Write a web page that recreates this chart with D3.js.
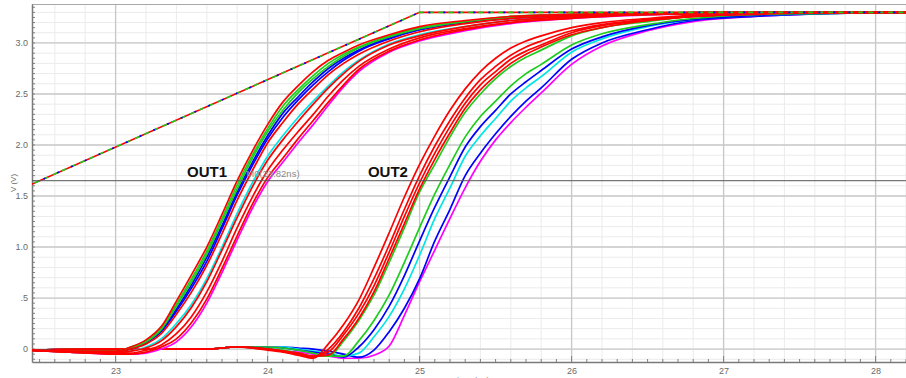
<!DOCTYPE html>
<html>
<head>
<meta charset="utf-8">
<script src="https://cdn.jsdelivr.net/npm/d3@7"></script>
<style>
  body { margin: 0; background: #fff; }
  svg { display: block; font-family: "Liberation Sans", Arial, sans-serif; }
</style>
</head>
<body>
<div id="chart"></div>
<script>
// time axis (ns) and tick labels
var xTickValues = [23, 24, 25, 26, 27, 28];
var xTickLabels = ['23', '24', '25', '26', '27', '28'];
var yTickValues = [0, 0.5, 1.0, 1.5, 2.0, 2.5, 3.0];
var yTickLabels = ['0', '.5', '1.0', '1.5', '2.0', '2.5', '3.0'];

// input ramp
var rampTimes = [20, 25, 28.2];
var rampVolts = [0, 3.3, 3.3];

// OUT1 family
var out1Times = [22.4, 22.7, 23.0, 23.1, 23.2, 23.3, 23.4, 23.5, 23.6, 23.7, 23.8, 23.9,
  24.0, 24.1, 24.2, 24.3, 24.4, 24.5, 24.6, 24.8, 25.0, 25.3, 25.6, 26.0, 26.5, 27.0, 28.2];
var out1Colors = ['#ff00ff', '#00e6e6', '#0000ff', '#0000ff', '#1ecc1e', '#1ecc1e',
  '#ff0000', '#ff0000', '#ff0000', '#ff0000', '#ff0000'];
var out1Volts = [
  [-0.01,-0.03,-0.05,-0.05,-0.04,0.00,0.07,0.22,0.45,0.75,1.07,1.38,1.64,1.83,2.02,2.20,2.39,2.57,2.72,2.91,3.02,3.12,3.19,3.24,3.275,3.29,3.30],
  [-0.01,-0.03,-0.04,-0.02,0.02,0.10,0.25,0.44,0.69,1.00,1.33,1.63,1.89,2.09,2.27,2.43,2.58,2.72,2.83,2.99,3.08,3.16,3.22,3.26,3.28,3.30,3.30],
  [-0.01,-0.02,-0.03,0.00,0.06,0.17,0.37,0.60,0.86,1.18,1.51,1.80,2.06,2.27,2.44,2.59,2.72,2.83,2.92,3.04,3.13,3.20,3.24,3.27,3.29,3.30,3.30],
  [-0.01,-0.02,-0.03,0.01,0.07,0.18,0.39,0.63,0.90,1.21,1.54,1.83,2.09,2.31,2.47,2.62,2.75,2.85,2.93,3.05,3.13,3.20,3.25,3.27,3.29,3.30,3.30],
  [-0.01,-0.02,-0.02,0.01,0.07,0.19,0.42,0.66,0.93,1.25,1.57,1.87,2.13,2.34,2.51,2.65,2.77,2.87,2.95,3.06,3.14,3.21,3.25,3.28,3.29,3.30,3.30],
  [-0.01,-0.02,-0.02,0.02,0.08,0.21,0.44,0.69,0.96,1.28,1.61,1.90,2.16,2.38,2.54,2.68,2.80,2.89,2.96,3.07,3.15,3.21,3.26,3.28,3.29,3.30,3.30],
  [-0.01,-0.03,-0.05,-0.05,-0.03,0.02,0.10,0.26,0.49,0.79,1.11,1.42,1.68,1.87,2.06,2.24,2.42,2.59,2.74,2.92,3.03,3.13,3.20,3.24,3.28,3.29,3.30],
  [-0.01,-0.03,-0.04,-0.04,-0.01,0.04,0.15,0.32,0.56,0.86,1.19,1.49,1.75,1.95,2.13,2.30,2.48,2.64,2.77,2.94,3.05,3.14,3.20,3.25,3.28,3.29,3.30],
  [-0.01,-0.03,-0.04,-0.02,0.01,0.08,0.22,0.41,0.66,0.97,1.29,1.59,1.85,2.05,2.23,2.40,2.56,2.70,2.82,2.98,3.07,3.16,3.22,3.26,3.28,3.29,3.30],
  [-0.01,-0.02,-0.03,0.00,0.05,0.15,0.34,0.56,0.82,1.13,1.46,1.75,2.02,2.22,2.40,2.55,2.69,2.80,2.89,3.02,3.11,3.19,3.24,3.27,3.29,3.30,3.30],
  [-0.01,-0.02,-0.02,0.02,0.09,0.22,0.47,0.73,1.00,1.32,1.65,1.94,2.20,2.42,2.58,2.72,2.83,2.91,2.98,3.08,3.16,3.22,3.26,3.28,3.295,3.30,3.30]
];

// OUT2 family
var out2Times = [22.4, 23.0, 23.6, 23.8, 24.0, 24.1, 24.2, 24.3, 24.4, 24.5, 24.6, 24.7, 24.8, 24.9,
  25.0, 25.1, 25.2, 25.3, 25.4, 25.5, 25.6, 25.7, 25.8, 26.0, 26.2, 26.5, 26.8, 27.2, 27.7, 28.2];
var out2Colors = ['#ff00ff', '#0000ff', '#00e6e6', '#0000ff', '#1ecc1e', '#1ecc1e',
  '#ff0000', '#ff0000', '#ff0000', '#ff0000'];
var out2Volts = [
  [-0.01,0,0,0.02,0.00,-0.02,-0.03,-0.05,-0.07,-0.09,-0.09,-0.06,0.03,0.33,0.66,0.97,1.28,1.58,1.84,2.05,2.22,2.37,2.51,2.79,2.97,3.12,3.21,3.26,3.29,3.30],
  [-0.01,0,0,0.02,0.01,0.02,0.01,0.00,-0.02,-0.05,-0.08,-0.01,0.17,0.40,0.69,1.06,1.37,1.70,1.92,2.11,2.28,2.43,2.56,2.84,3.00,3.13,3.22,3.26,3.29,3.30],
  [-0.01,0,0,0.02,0.01,0.02,0.00,-0.02,-0.04,-0.07,-0.04,0.12,0.32,0.59,0.92,1.28,1.58,1.89,2.09,2.26,2.43,2.56,2.67,2.91,3.04,3.16,3.23,3.27,3.29,3.30],
  [-0.01,0,0,0.02,0.02,0.01,-0.01,-0.03,-0.05,-0.08,0.02,0.19,0.42,0.72,1.06,1.39,1.69,1.98,2.18,2.34,2.50,2.62,2.73,2.94,3.06,3.17,3.23,3.27,3.29,3.30],
  [-0.01,0,0,0.02,0.02,0.01,-0.01,-0.04,-0.07,-0.07,0.08,0.28,0.53,0.85,1.19,1.52,1.81,2.08,2.28,2.43,2.58,2.70,2.79,2.98,3.09,3.18,3.24,3.28,3.29,3.30],
  [-0.01,0,0,0.02,0.00,-0.01,-0.04,-0.07,-0.07,0.08,0.28,0.53,0.85,1.19,1.54,1.81,2.08,2.32,2.50,2.65,2.77,2.86,2.93,3.07,3.15,3.21,3.26,3.28,3.30,3.30],
  [-0.01,0,0,0.02,0.00,-0.02,-0.04,-0.07,-0.06,0.10,0.30,0.56,0.89,1.23,1.57,1.86,2.12,2.36,2.54,2.68,2.80,2.89,2.96,3.08,3.15,3.22,3.26,3.28,3.30,3.30],
  [-0.01,0,0,0.02,0.00,-0.02,-0.04,-0.07,-0.03,0.14,0.35,0.62,0.95,1.30,1.63,1.92,2.18,2.41,2.59,2.72,2.84,2.92,2.98,3.10,3.17,3.22,3.26,3.29,3.30,3.30],
  [-0.01,0,0,0.02,0.00,-0.02,-0.05,-0.08,0.00,0.17,0.40,0.69,1.02,1.37,1.70,1.99,2.24,2.46,2.64,2.77,2.88,2.96,3.02,3.12,3.18,3.23,3.26,3.29,3.30,3.30],
  [-0.01,0,0,0.02,-0.01,-0.03,-0.06,-0.09,0.05,0.24,0.48,0.80,1.14,1.49,1.81,2.09,2.34,2.55,2.72,2.85,2.95,3.02,3.07,3.15,3.20,3.24,3.27,3.29,3.30,3.30]
];

// marker and labels
var markerVolt = 1.65;
var markerTime = 23.82;
var markerText = 'M0(23.82ns)';
var groupLabels = ['OUT1', 'OUT2'];
var groupLabelTimes = [23.47, 24.66];

(function() {
  var WIDTH = 906, HEIGHT = 378;
  var LEFT = 32, TOP = 4, RIGHT = 906, BOTTOM = 362;

  var svg = d3.select('#chart').append('svg')
    .attr('width', WIDTH)
    .attr('height', HEIGHT);

  var x = d3.scaleLinear().domain([22.45, 28.2]).range([LEFT, RIGHT]);
  var y = d3.scaleLinear().domain([-0.127, 3.382]).range([BOTTOM, TOP]);

  svg.append('clipPath').attr('id', 'plot')
    .append('rect')
      .attr('x', LEFT).attr('y', TOP)
      .attr('width', RIGHT - LEFT).attr('height', BOTTOM - TOP);

  var grid = svg.append('g');

  // minor grid
  var xMinor = d3.range(113, 142).map(function(i) { return i / 5; });
  var yMinor = d3.range(-1, 34).map(function(i) { return i / 10; });

  grid.selectAll('.xminor')
    .data(xMinor)
    .enter()
      .append('line')
      .attr('x1', function(d) { return x(d); })
      .attr('x2', function(d) { return x(d); })
      .attr('y1', TOP).attr('y2', BOTTOM)
      .style('stroke', '#ebebeb')
      .style('stroke-width', 1);

  grid.selectAll('.yminor')
    .data(yMinor)
    .enter()
      .append('line')
      .attr('x1', LEFT).attr('x2', RIGHT)
      .attr('y1', function(d) { return y(d); })
      .attr('y2', function(d) { return y(d); })
      .style('stroke', '#ebebeb')
      .style('stroke-width', 1);

  // major grid
  grid.selectAll('.xmajor')
    .data(xTickValues)
    .enter()
      .append('line')
      .attr('x1', function(d) { return x(d); })
      .attr('x2', function(d) { return x(d); })
      .attr('y1', TOP).attr('y2', BOTTOM)
      .style('stroke', '#c8c8c8')
      .style('stroke-width', 1.3);

  grid.selectAll('.ymajor')
    .data(yTickValues)
    .enter()
      .append('line')
      .attr('x1', LEFT).attr('x2', RIGHT)
      .attr('y1', function(d) { return y(d); })
      .attr('y2', function(d) { return y(d); })
      .style('stroke', '#c8c8c8')
      .style('stroke-width', 1.3);

  // frame
  svg.append('line')
    .attr('x1', LEFT).attr('x2', RIGHT).attr('y1', TOP + 0.5).attr('y2', TOP + 0.5)
    .style('stroke', '#a8a8a8').style('stroke-width', 1);

  // small inner ticks
  var xSmall = d3.range(225, 283).map(function(i) { return i / 10; });
  var ySmall = d3.range(-2, 68).map(function(i) { return i / 20; });

  svg.selectAll('.xsmall')
    .data(xSmall)
    .enter()
      .append('line')
      .attr('x1', function(d) { return x(d); })
      .attr('x2', function(d) { return x(d); })
      .attr('y1', BOTTOM)
      .attr('y2', function(d, i) { return BOTTOM - ((i + 5) % 10 === 0 ? 6 : 3); })
      .style('stroke', '#808080');

  svg.selectAll('.ysmall')
    .data(ySmall)
    .enter()
      .append('line')
      .attr('x1', LEFT)
      .attr('x2', LEFT + 3)
      .attr('y1', function(d) { return y(d); })
      .attr('y2', function(d) { return y(d); })
      .style('stroke', '#808080');

  var xAxis = d3.axisBottom(x)
    .tickValues(xTickValues)
    .tickFormat(function(d, i) { return xTickLabels[i]; })
    .tickSize(0)
    .tickPadding(6);

  var yAxis = d3.axisLeft(y)
    .tickValues(yTickValues)
    .tickFormat(function(d, i) { return yTickLabels[i]; })
    .tickSize(0)
    .tickPadding(4);

  var gx = svg.append('g')
    .attr('transform', 'translate(0,' + BOTTOM + ')')
    .call(xAxis);
  var gy = svg.append('g')
    .attr('transform', 'translate(' + LEFT + ',0)')
    .call(yAxis);

  [gx, gy].forEach(function(g) {
    g.select('.domain').style('stroke', '#7a7a7a').style('stroke-width', 1.5);
    g.selectAll('text')
      .style('font-family', '"Liberation Sans", Arial, sans-serif')
      .style('font-size', '9px')
      .style('fill', '#6a6a6a');
  });

  svg.append('text')
    .attr('transform', 'translate(16,183) rotate(-90)')
    .attr('text-anchor', 'middle')
    .style('font-size', '8px')
    .style('fill', '#6a6a6a')
    .text('V (V)');

  svg.append('text')
    .attr('x', 472).attr('y', 384)
    .attr('text-anchor', 'middle')
    .style('font-size', '9px')
    .style('fill', '#888')
    .text('time (ns)');

  // traces
  var plot = svg.append('g').attr('clip-path', 'url(#plot)');

  function traceLine(times, curve) {
    return d3.line()
      .x(function(d, i) { return x(times[i]); })
      .y(function(d) { return y(d); })
      .curve(curve);
  }

  var line1 = traceLine(out1Times, d3.curveMonotoneX);
  var line2 = traceLine(out2Times, d3.curveMonotoneX);
  var lineRamp = traceLine(rampTimes, d3.curveLinear);

  plot.selectAll('.out2')
    .data(out2Volts)
    .enter()
      .append('path')
      .attr('d', line2)
      .style('fill', 'none')
      .style('stroke', function(d, i) { return out2Colors[i]; })
      .style('stroke-width', 1.7);

  plot.selectAll('.out1')
    .data(out1Volts)
    .enter()
      .append('path')
      .attr('d', line1)
      .style('fill', 'none')
      .style('stroke', function(d, i) { return out1Colors[i]; })
      .style('stroke-width', 1.7);

  // ramp drawn as overlapped traces
  [['#ff0000', null], ['#1ecc1e', '5,5'], ['#0000ff', '2,13']].forEach(function(s) {
    plot.append('path')
      .datum(rampVolts)
      .attr('d', lineRamp)
      .style('fill', 'none')
      .style('stroke', s[0])
      .style('stroke-width', 1.6)
      .style('stroke-dasharray', s[1]);
  });

  // marker line
  svg.append('line')
    .attr('x1', LEFT).attr('x2', RIGHT)
    .attr('y1', y(markerVolt)).attr('y2', y(markerVolt))
    .style('stroke', '#555')
    .style('stroke-width', 1);

  svg.append('text')
    .attr('x', x(markerTime) + 6)
    .attr('y', y(markerVolt) - 4)
    .style('font-size', '9.5px')
    .style('fill', '#8a8a8a')
    .text(markerText);

  svg.selectAll('.group')
    .data(groupLabels)
    .enter()
      .append('text')
      .attr('x', function(d, i) { return x(groupLabelTimes[i]); })
      .attr('y', y(markerVolt) - 4)
      .style('font-size', '15px')
      .style('font-weight', 'bold')
      .style('fill', '#111')
      .text(function(d) { return d; });
})();
</script>
</body>
</html>
